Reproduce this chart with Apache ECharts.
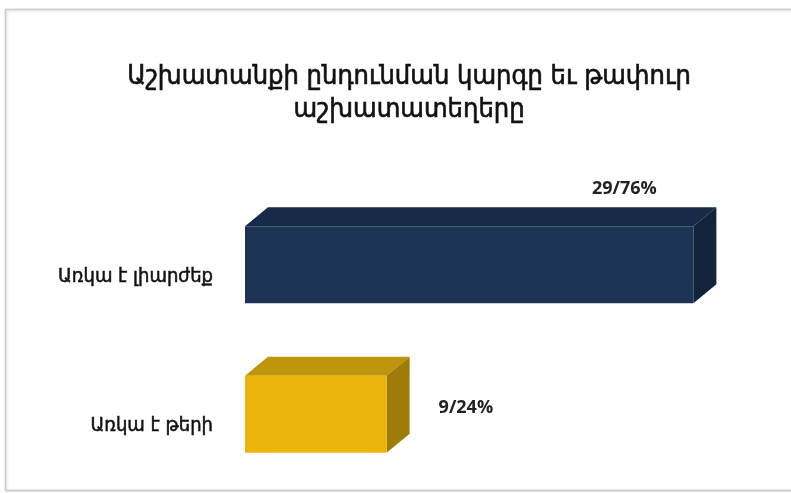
<!DOCTYPE html>
<html>
<head>
<meta charset="utf-8">
<script src="https://cdn.jsdelivr.net/npm/echarts@6/dist/echarts.min.js"></script>
<style>
  html, body { margin: 0; padding: 0; background: #ffffff; }
  #chart { width: 791px; height: 493px; }
</style>
</head>
<body>
<div id="chart"></div>
<script>
// Chart data
var titleText = 'Աշխատանքի ընդունման կարգը եւ թափուր\nաշխատատեղերը';
var categories = ['Առկա է լիարժեք', 'Առկա է թերի'];
var counts = [29, 9];
var percents = [76, 24];

// Face colours for each box: front, top, side
var palettes = [
  { front: '#1c3355', top: '#172a47', side: '#13233b' },
  { front: '#ebb40b', top: '#bf950c', side: '#9f7c07' }
];

var FONT = '"DejaVu Sans Condensed", "DejaVu Sans", sans-serif';
var DEPTH_X = 23;
var DEPTH_Y = 19;

var chart = echarts.init(document.getElementById('chart'), null, { renderer: 'canvas' });

function renderBox(params, api) {
  var cat = api.value(0);
  var val = api.value(1);
  var idx = params.dataIndex;
  var start = api.coord([0, cat]);
  var end = api.coord([val, cat]);
  var band = api.size([0, 1])[1];
  var h = band * 0.515;
  var x0 = start[0], x1 = end[0], yc = end[1];
  var top = yc - h / 2, bot = yc + h / 2;
  var pal = palettes[idx % palettes.length];
  var label = counts[idx] + '/' + percents[idx] + '%';
  var font = 'bold 18px "Open Sans", "Liberation Sans", sans-serif';

  // Put the label beside the box when it fits, otherwise above it
  var labelW = label.length * 11;
  var besideX = x1 + DEPTH_X + 29;
  var fits = besideX + labelW < api.getWidth() - 10;
  var textEl = fits
    ? { type: 'text', style: { text: label, x: besideX, y: yc - 6, align: 'left', verticalAlign: 'middle', font: font, fill: '#222222' } }
    : { type: 'text', style: { text: label, x: x1 - 69, y: top - DEPTH_Y - 18, align: 'center', verticalAlign: 'middle', font: font, fill: '#222222' } };

  return {
    type: 'group',
    children: [
      { type: 'polygon', shape: { points: [[x0, top], [x0 + DEPTH_X, top - DEPTH_Y], [x1 + DEPTH_X, top - DEPTH_Y], [x1, top]] }, style: { fill: pal.top } },
      { type: 'polygon', shape: { points: [[x1, top], [x1 + DEPTH_X, top - DEPTH_Y], [x1 + DEPTH_X, bot - DEPTH_Y], [x1, bot]] }, style: { fill: pal.side } },
      { type: 'rect', shape: { x: x0, y: top, width: x1 - x0, height: bot - top }, style: { fill: pal.front } },
      textEl
    ]
  };
}

var option = {
  backgroundColor: '#ffffff',
  animation: false,
  title: {
    text: titleText,
    left: 404,
    textAlign: 'center',
    top: 55,
    textStyle: {
      fontFamily: FONT, fontSize: 27, fontWeight: 'normal', lineHeight: 33, color: '#111111',
      textBorderColor: '#111111', textBorderWidth: 0.6
    }
  },
  graphic: [
    {
      type: 'rect',
      shape: { x: 5.5, y: 9.5, width: 800, height: 481 },
      style: { fill: 'none', stroke: '#cccccc', lineWidth: 1.5, shadowColor: 'rgba(0,0,0,0.15)', shadowBlur: 3, shadowOffsetX: 1, shadowOffsetY: 1 },
      silent: true
    }
  ],
  grid: { left: 245, right: 74, top: 190, bottom: 4, containLabel: false },
  xAxis: {
    type: 'value', min: 0, max: 80, show: false
  },
  yAxis: {
    type: 'category',
    data: categories,
    inverse: true,
    axisLine: { show: false },
    axisTick: { show: false },
    splitLine: { show: false },
    axisLabel: {
      margin: 32,
      verticalAlign: 'top',
      lineHeight: 24,
      fontFamily: FONT,
      fontSize: 20,
      color: '#111111',
      textBorderColor: '#111111',
      textBorderWidth: 0.5
    }
  },
  series: [
    {
      type: 'custom',
      renderItem: renderBox,
      encode: { x: 1, y: 0 },
      data: percents.map(function (v, i) { return [i, v]; })
    }
  ]
};

chart.setOption(option);
</script>
</body>
</html>
